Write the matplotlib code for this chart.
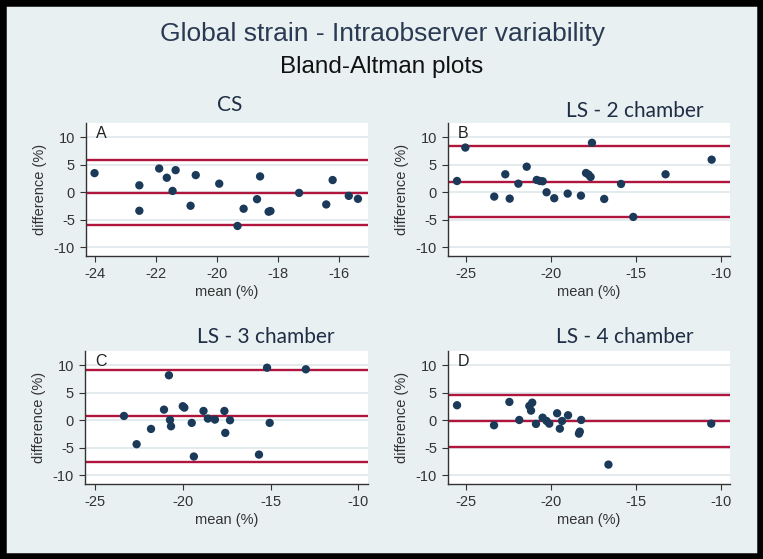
import numpy as np
import matplotlib
matplotlib.use("Agg")
import matplotlib.pyplot as plt
from matplotlib.patches import Rectangle

# --- data (mean %, difference %) ---
cs_mean = [-24.02, -22.55, -22.55, -21.90, -21.65, -21.36, -21.46, -20.87, -20.70, -19.93, -19.33,
           -19.13, -18.69, -18.59, -18.31, -18.25, -17.31, -16.42, -16.21, -15.68, -15.38]
cs_diff = [3.48, 1.26, -3.37, 4.32, 2.64, 4.02, 0.24, -2.46, 3.12, 1.56, -6.13,
           -3.00, -1.26, 2.88, -3.54, -3.42, -0.12, -2.22, 2.22, -0.66, -1.20]
cs_lines = [5.8, -0.05, -5.9]

ls2_mean = [-25.51, -25.02, -23.32, -22.67, -22.41, -21.90, -21.41, -20.82, -20.63, -20.47, -20.24, -19.79,
            -19.00, -18.22, -17.92, -17.77, -17.65, -17.57, -16.85, -15.86, -15.14, -13.24, -10.53]
ls2_diff = [2.05, 8.13, -0.79, 3.27, -1.16, 1.56, 4.65, 2.24, 2.05, 2.00, 0.00, -1.09,
            -0.25, -0.62, 3.50, 3.20, 2.78, 9.00, -1.22, 1.51, -4.49, 3.27, 5.93]
ls2_lines = [8.42, 1.87, -4.49]

ls3_mean = [-23.35, -22.63, -21.81, -21.07, -20.79, -20.73, -20.67, -20.00, -19.91, -19.49, -19.37,
            -18.82, -18.57, -18.17, -17.63, -17.58, -17.31, -15.66, -15.05, -15.20, -12.99]
ls3_diff = [0.78, -4.36, -1.58, 1.93, 8.18, 0.05, -1.10, 2.55, 2.30, -0.48, -6.60,
            1.69, 0.30, 0.12, 1.69, -2.30, 0.00, -6.25, -0.48, 9.56, 9.27]
ls3_lines = [9.15, 0.73, -7.64]

ls4_mean = [-25.51, -23.34, -22.44, -21.86, -21.27, -21.10, -21.17, -20.88, -20.49, -20.26,
            -20.10, -19.64, -19.48, -19.35, -19.00, -18.31, -18.36, -18.23, -16.63, -10.60]
ls4_diff = [2.73, -0.91, 3.33, 0.05, 2.60, 3.20, 1.75, -0.67, 0.47, -0.13,
            -0.62, 1.27, -1.53, -0.13, 0.91, -2.07, -2.44, 0.05, -8.07, -0.62]
ls4_lines = [4.66, -0.07, -4.80]

titles = ["CS", "LS - 2 chamber", "LS - 3 chamber", "LS - 4 chamber"]
letters = ["A", "B", "C", "D"]

W, H = 763, 559
bg = "#E9F0F2"
navy = "#1B3A5A"
red = "#B0153D"

fig = plt.figure(figsize=(W / 100, H / 100), dpi=100, facecolor=bg)
# black frame round the picture
fig.patches.append(Rectangle((0, 0), 1, 1, transform=fig.transFigure, fill=False,
                             edgecolor="black", lw=9, zorder=5))

fig.text(382 / W, 1 - 34 / H, "Global strain - Intraobserver variability", ha="center", va="center",
         fontsize=19, family="Liberation Sans", color="#2A3A52")
fig.text(382 / W, 1 - 67 / H, "Bland-Altman plots", ha="center", va="center",
         fontsize=17.5, family="Liberation Sans", color="#111111")

# axes boxes in pixels: left, top, right, bottom
boxes = [(86, 123, 368, 256), (448, 123, 730, 256), (85, 351, 368, 484), (448, 351, 730, 484)]
xlims = [(-24.3, -15.05), (-26.04, -9.45), (-25.57, -9.45), (-26.04, -9.5)]
xticks = [[-24, -22, -20, -18, -16], [-25, -20, -15, -10], [-25, -20, -15, -10], [-25, -20, -15, -10]]
title_pos = [(230, 105), (635, 111), (266, 337), (625, 337)]
series = [(cs_mean, cs_diff, cs_lines), (ls2_mean, ls2_diff, ls2_lines),
          (ls3_mean, ls3_diff, ls3_lines), (ls4_mean, ls4_diff, ls4_lines)]

for i, (l, t, r, b) in enumerate(boxes):
    ax = fig.add_axes([l / W, 1 - b / H, (r - l) / W, (b - t) / H])
    ax.set_facecolor("white")
    X, Y, lines = series[i]
    for v in lines:
        ax.axhline(v, color=red, lw=1.7, zorder=2)
    ax.scatter(X, Y, s=36, color=navy, edgecolors="none", zorder=3)

    ax.set_xlim(*xlims[i])
    ax.set_ylim(-11.6, 12.6)
    ax.set_xticks(xticks[i])
    ax.set_yticks([-10, -5, 0, 5, 10])
    ax.set_xticklabels(["%d" % v for v in xticks[i]])
    ax.set_yticklabels(["-10", "-5", "0", "5", "10"])
    ax.yaxis.grid(True, color="#E4EBEE", lw=1.4, zorder=0)
    ax.set_axisbelow(True)

    for s in ["top", "right"]:
        ax.spines[s].set_visible(False)
    for s in ["left", "bottom"]:
        ax.spines[s].set_color("#333333")
        ax.spines[s].set_linewidth(1.0)
    ax.tick_params(axis="both", direction="out", length=4, width=0.8, color="#333333",
                   labelsize=10.5, labelcolor="#333333", pad=4)
    for lab in ax.get_xticklabels() + ax.get_yticklabels():
        lab.set_family("Liberation Sans")

    ax.set_xlabel("mean (%)", fontsize=10.5, family="Liberation Sans", color="#333333")
    ax.set_ylabel("difference (%)", fontsize=10.5, family="Liberation Sans", color="#333333")
    ax.xaxis.set_label_coords(0.5, -29 / (b - t))
    ax.yaxis.set_label_coords(-39 / (r - l), 0.5)

    ax.text(0.035, 0.92, letters[i], transform=ax.transAxes, ha="left", va="center",
            fontsize=11.5, family="Liberation Sans", color="#222222")

    tx, ty = title_pos[i]
    fig.text(tx / W, 1 - ty / H, titles[i], ha="center", va="center", fontsize=15,
             family="Lato", color="#1F2E45")

fig.savefig("out.png", dpi=100, facecolor=bg)
